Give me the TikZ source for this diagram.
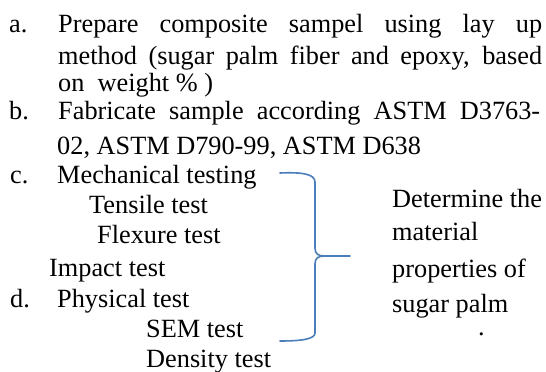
\documentclass[tikz,border=0pt]{standalone}
\usepackage{fontspec}
\setmainfont{Liberation Serif}
\definecolor{braceblue}{HTML}{4A7EBB}
\tikzset{
  txt/.style={anchor=base west, inner sep=0pt, font=\fontsize{26.3}{31}\selectfont},
  brace/.style={draw=braceblue, line width=1.6pt, line cap=round, line join=round}
}
\begin{document}
\begin{tikzpicture}[x=1pt,y=-1pt]
\useasboundingbox (0,0) rectangle (546,372);
% list on the left
\node[txt] (la) at (9,32) {a.};
\node[txt] (a1) at (58,32) {\makebox[484pt][s]{Prepare composite sampel using lay up}};
\node[txt] (a2) at (58,64) {\makebox[484pt][s]{method (sugar palm fiber and epoxy, based}};
\node[txt] (a3) at (58,91) {on\ \ weight \% )};
\node[txt] (lb) at (9,119) {b.};
\node[txt] (b1) at (58,119) {\makebox[482pt][s]{Fabricate sample according ASTM D3763-}};
\node[txt] (b2) at (57,154) {02, ASTM D790-99, ASTM D638};
\node[txt] (lc) at (10,183) {c.};
\node[txt] (c1) at (57,183) {Mechanical testing};
\node[txt] (c2) at (89,213) {Tensile test};
\node[txt] (c3) at (97,243) {Flexure test};
\node[txt] (c4) at (49,276) {Impact test};
\node[txt] (ld) at (10,307) {d.};
\node[txt] (d1) at (57,307) {Physical test};
\node[txt] (d2) at (146,337) {SEM test};
\node[txt] (d3) at (146,367) {Density test};
% brace
\draw[brace] (280,173) .. controls (302,172) and (315,174) .. (315,182) -- (315,248)
  .. controls (315,254) and (318,256) .. (325,256) -- (350,256);
\draw[brace] (325,256) .. controls (318,256) and (315,258) .. (315,264) -- (315,333)
  .. controls (315,339) and (302,341) .. (280,341);
% result on the right
\node[txt] (r1) at (392,207) {Determine the};
\node[txt] (r2) at (392,240) {material};
\node[txt] (r3) at (392,277) {properties of};
\node[txt] (r4) at (392,312) {sugar palm};
\node[txt] (r5) at (478,335) {.};
\end{tikzpicture}
\end{document}
